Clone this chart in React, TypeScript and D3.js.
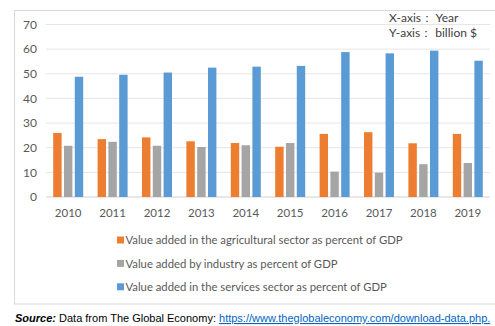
import React from "react";
import * as d3 from "d3";

const years = ["2010","2011","2012","2013","2014","2015","2016","2017","2018","2019"];
const agriculture = [26.0, 23.5, 24.2, 22.6, 21.9, 20.4, 25.6, 26.3, 21.8, 25.6];
const industry = [20.8, 22.4, 20.8, 20.3, 21.0, 21.9, 10.3, 9.9, 13.3, 13.8];
const services = [48.8, 49.6, 50.5, 52.5, 52.9, 53.2, 58.8, 58.3, 59.4, 55.3];
const yTicks = [0, 10, 20, 30, 40, 50, 60, 70];
const seriesNames = [
  "Value added in the agricultural sector as percent of GDP",
  "Value added by industry as percent of GDP",
  "Value added in the services sector as percent of GDP",
];
const colors = ["#ED7D31", "#A5A5A5", "#5B9BD5"];

export default function App() {
  const W = 495, H = 326;
  const x = d3.scaleBand().domain(years).range([46, 490]).paddingInner(0).paddingOuter(0);
  const y = d3.scaleLinear().domain([0, 70]).range([197, 24.5]);
  const series = [agriculture, industry, services];
  const inner = d3.scaleBand().domain(["0", "1", "2"]).range([0, 30]).paddingInner(0.22);
  const groupOffset = (x.bandwidth() - 30) / 2;
  const font = "Lato, 'Open Sans', sans-serif";
  return (
    <svg width={W} height={H} style={{ position: "absolute", left: 0, top: 0, background: "#fff" }}>
      <rect x={14.5} y={10.5} width={490} height={293.5} fill="#fff" stroke="#d9d9d9" />
      {yTicks.map((t) => (
        <g key={t}>
          <line x1={46} x2={490} y1={y(t)} y2={y(t)} stroke={t === 0 ? "#d0d0d0" : "#e6e6e6"} strokeWidth={1} />
          <text x={37} y={y(t)} dy="0.35em" textAnchor="end" fontSize={12} fill="#595959" fontFamily={font}>{t}</text>
        </g>
      ))}
      {series.map((s, si) =>
        s.map((v, i) => (
          <rect
            key={`${si}-${i}`}
            x={(x(years[i]) as number) + groupOffset + (inner(String(si)) as number)}
            y={y(v)}
            width={inner.bandwidth()}
            height={y(0) - y(v)}
            fill={colors[si]}
          />
        ))
      )}
      {years.map((yr) => (
        <text key={yr} x={(x(yr) as number) + x.bandwidth() / 2} y={217} textAnchor="middle" fontSize={11.5} fill="#595959" fontFamily={font}>{yr}</text>
      ))}
      <text x={389} y={22} fontSize={12} fill="#404040" fontFamily={font}>X-axis： Year</text>
      <text x={389} y={37} fontSize={12} fill="#404040" fontFamily={font}>Y-axis： billion $</text>
      {seriesNames.map((n, i) => (
        <g key={n}>
          <rect x={117} y={236.5 + i * 23.4} width={7} height={7} fill={colors[i]} />
          <text x={125.5} y={240.5 + i * 23.4} dy="0.35em" fontSize={11.3} fill="#595959" fontFamily={font}>{n}</text>
        </g>
      ))}
      <text x={15} y={322} fontSize={11} fill="#000" fontFamily="'Liberation Sans', Arial, sans-serif">
        <tspan fontWeight="bold" fontStyle="italic">Source:</tspan>
        <tspan> Data from The Global Economy: </tspan>
        <tspan fill="#0563C1" textDecoration="underline">https://www.theglobaleconomy.com/download-data.php.</tspan>
      </text>
    </svg>
  );
}
